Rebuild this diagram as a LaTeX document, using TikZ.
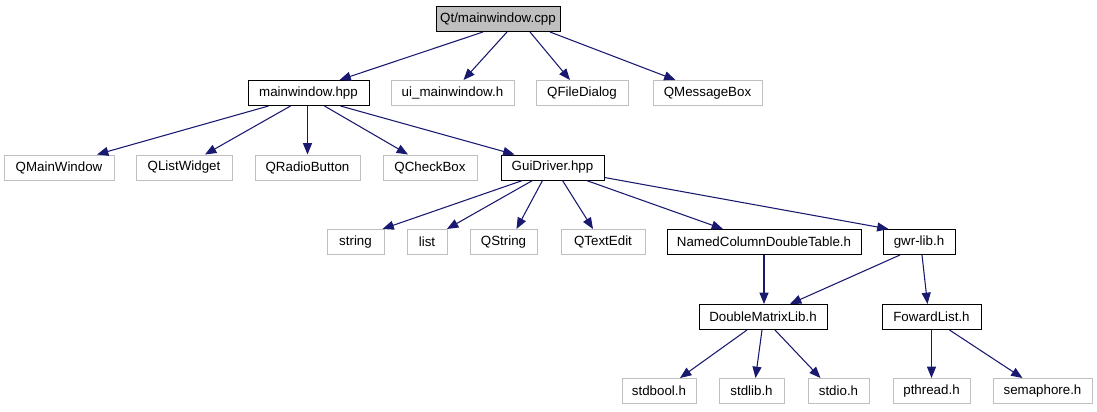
\documentclass[tikz,border=0pt]{standalone}
\usepackage{fontspec}
\setmainfont{Liberation Sans}
\usetikzlibrary{calc,arrows.meta}

\definecolor{edgeblue}{HTML}{191970}
\definecolor{extgray}{HTML}{BFBFBF}

\tikzset{
    file/.style={draw=black, line width=0.75pt, rectangle, inner sep=0pt, minimum height=18.75pt,
        minimum width=#1*0.75pt, font=\fontsize{10}{12}\selectfont},
    ext/.style={file=#1, draw=extgray},
    root/.style={file=#1, fill=extgray},
    edge/.style={draw=edgeblue, line width=0.8pt, -{Triangle[length=8.5pt, width=6.75pt]}}
}

\begin{document}
\begin{tikzpicture}[x=0.75pt, y=-0.75pt]
    \useasboundingbox (0,0) rectangle (1097,411);
    % level 0 and 1
    \node[root=124] (cpp) at (498,19) {Qt/mainwindow.cpp};
    \node[file=121] (mwhpp) at (308.5,93) {mainwindow.hpp}; \node[ext=123] (uimw) at (452.5,93) {ui\_mainwindow.h};
    \node[ext=92] (qfiledlg) at (582,93) {QFileDialog}; \node[ext=109] (qmsgbox) at (707.5,93) {QMessageBox};
    % level 2
    \node[ext=110] (qmainwin) at (59,167.5) {QMainWindow}; \node[ext=96] (qlistw) at (184,167.5) {QListWidget};
    \node[ext=105] (qradio) at (307.5,167.5) {QRadioButton}; \node[ext=94] (qcheck) at (430,167.5) {QCheckBox};
    \node[file=103] (guidrv) at (552.5,167.5) {GuiDriver.hpp};
    % level 3
    \node[ext=57] (str) at (355.5,242) {string}; \node[ext=40] (lst) at (427,242) {list};
    \node[ext=67] (qstr) at (503.5,242) {QString}; \node[ext=84] (qtextedit) at (603,242) {QTextEdit};
    \node[file=194] (namedtbl) at (764,242) {NamedColumnDoubleTable.h}; \node[file=72] (gwrlib) at (919,242) {gwr-lib.h};
    % level 4 and 5
    \node[file=128] (dmlib) at (763,317) {DoubleMatrixLib.h}; \node[file=99] (fwdlist) at (931.5,317) {FowardList.h};
    \node[ext=74] (stdbool) at (659,391) {stdbool.h}; \node[ext=65] (stdlib) at (751.5,391) {stdlib.h};
    \node[ext=61] (stdio) at (838.5,391) {stdio.h}; \node[ext=77] (pthread) at (931.5,391) {pthread.h};
    \node[ext=99] (semaphore) at (1042.5,391) {semaphore.h};

    % includes: source/offset/target/offset
    \foreach \s/\ds/\t/\dt in {cpp/-15/mwhpp/31, cpp/9/uimw/11, cpp/32/qfiledlg/-12, cpp/52/qmsgbox/-32,
        mwhpp/-40/qmainwin/38, mwhpp/-18/qlistw/21, mwhpp/-1/qradio/0, mwhpp/16/qcheck/-22, mwhpp/32/guidrv/-38,
        guidrv/-30/str/27, guidrv/-20/lst/20, guidrv/-10/qstr/13, guidrv/10/qtextedit/-10, guidrv/34/namedtbl/-41,
        namedtbl/0/dmlib/1, gwrlib/-19/dmlib/27, gwrlib/3/fwdlist/-4,
        dmlib/-16/stdbool/21, dmlib/-1/stdlib/4, dmlib/12/stdio/-18, fwdlist/0/pthread/0, fwdlist/18/semaphore/-20}
        {\draw[edge] ($(\s.south)+(\ds,0)$) -- ($(\t.north)+(\dt,0)$);}
    \draw[edge] ($(guidrv.east)+(0,10)$) -- ($(gwrlib.north west)+(6,0)$);
\end{tikzpicture}
\end{document}
